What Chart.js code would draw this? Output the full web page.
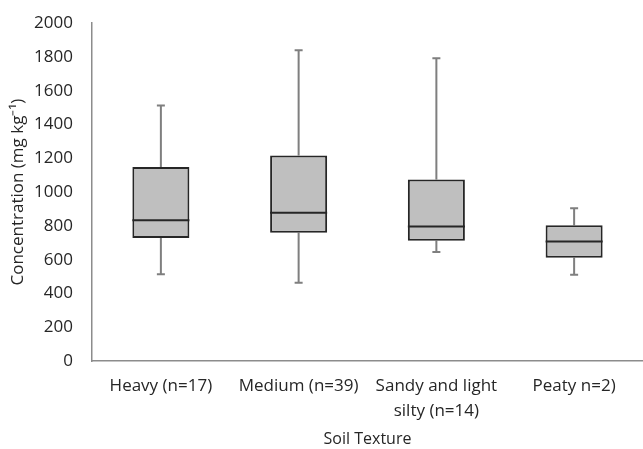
<!DOCTYPE html>
<html>
<head>
<meta charset="utf-8">
<script src="https://cdn.jsdelivr.net/npm/chart.js@4"></script>
<style>
  html,body{margin:0;padding:0;background:#fff}
  #wrap{width:643px;height:449px;overflow:hidden}
  #c{display:block;margin-top:-6px}
</style>
</head>
<body>
<div id="wrap"><canvas id="c" width="643" height="455"></canvas></div>
<script>
// 箱ひげ図の値
const categories = ['Heavy (n=17)', 'Medium (n=39)', ['Sandy and light', 'silty (n=14)'], 'Peaty n=2)'];
const minVals = [513, 464, 645, 511];
const q1Vals = [728, 759, 712, 612];
const medianVals = [834, 877, 796, 708];
const q3Vals = [1149, 1217, 1074, 804];
const maxVals = [1512, 1840, 1793, 905];
const yTicks = [0, 200, 400, 600, 800, 1000, 1200, 1400, 1600, 1800, 2000];

const FONT = '"Open Sans", sans-serif';

// ひげと中央値はスケール経由で描く
const boxExtras = {
  id: 'boxExtras',
  beforeDatasetsDraw(chart) {
    const { ctx, scales: { x, y } } = chart;
    ctx.save();
    ctx.strokeStyle = '#7f7f7f';
    ctx.lineWidth = 2;
    categories.forEach((_, i) => {
      const cx = x.getPixelForValue(i);
      const cap = 4;
      [[q3Vals[i], maxVals[i]], [q1Vals[i], minVals[i]]].forEach(([from, to]) => {
        ctx.beginPath();
        ctx.moveTo(cx, y.getPixelForValue(from));
        ctx.lineTo(cx, y.getPixelForValue(to));
        ctx.moveTo(cx - cap, y.getPixelForValue(to));
        ctx.lineTo(cx + cap, y.getPixelForValue(to));
        ctx.stroke();
      });
    });
    ctx.restore();
  },
  afterDatasetsDraw(chart) {
    const { ctx, scales: { y } } = chart;
    const meta = chart.getDatasetMeta(0);
    ctx.save();
    ctx.strokeStyle = '#262626';
    ctx.lineWidth = 2;
    meta.data.forEach((bar, i) => {
      const half = bar.width / 2;
      const py = y.getPixelForValue(medianVals[i]);
      ctx.beginPath();
      ctx.moveTo(bar.x - half, py);
      ctx.lineTo(bar.x + half, py);
      ctx.stroke();
    });
    ctx.restore();
  }
};

new Chart(document.getElementById('c'), {
  type: 'bar',
  data: {
    labels: categories,
    datasets: [{
      data: q1Vals.map((q1, i) => [q1, q3Vals[i]]),
      backgroundColor: '#bfbfbf',
      borderColor: '#262626',
      borderWidth: 2,
      borderSkipped: false,
      categoryPercentage: 1,
      barPercentage: 0.414
    }]
  },
  options: {
    responsive: false,
    animation: false,
    layout: { padding: { top: 0, right: 0, left: 8, bottom: 0 } },
    plugins: { legend: { display: false }, tooltip: { enabled: false } },
    scales: {
      x: {
        grid: { display: false, drawTicks: false },
        border: { display: true, color: '#8c8c8c', width: 1.5 },
        ticks: { color: '#262626', font: { family: FONT, size: 17, lineHeight: 1.5 }, padding: 12, maxRotation: 0, autoSkip: false },
        title: { display: true, text: 'Soil Texture', color: '#262626', font: { family: FONT, size: 16 }, padding: { top: 4, bottom: 0 } },
        afterFit(scale) { scale.height = 88; }
      },
      y: {
        min: 0, max: 2000,
        afterBuildTicks(scale) { scale.ticks = yTicks.map(v => ({ value: v })); },
        grid: { display: false, drawTicks: false },
        border: { display: true, color: '#8c8c8c', width: 1.5 },
        ticks: { color: '#262626', font: { family: FONT, size: 17 }, padding: 19, callback: v => String(v) },
        title: { display: true, text: 'Concentration (mg kg⁻¹)', color: '#262626', font: { family: FONT, size: 17 }, padding: { top: 0, bottom: 4 } },
        afterFit(scale) { scale.width = 84; }
      }
    }
  },
  plugins: [boxExtras]
});
</script>
</body>
</html>
